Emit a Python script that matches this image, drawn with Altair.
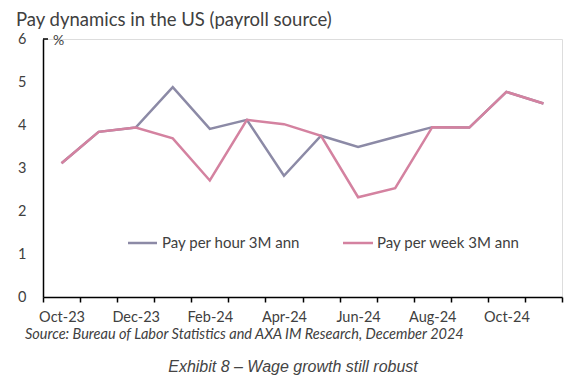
import altair as alt
import pandas as pd

months = ["Oct-23", "Nov-23", "Dec-23", "Jan-24", "Feb-24", "Mar-24", "Apr-24",
          "May-24", "Jun-24", "Jul-24", "Aug-24", "Sep-24", "Oct-24", "Nov-24"]
pay_hour = [3.11, 3.84, 3.94, 4.88, 3.91, 4.12, 2.82, 3.75, 3.49, 3.72, 3.95, 3.94, 4.77, 4.50]
pay_week = [3.11, 3.84, 3.94, 3.69, 2.71, 4.12, 4.02, 3.75, 2.32, 2.53, 3.95, 3.94, 4.77, 4.50]
shown_labels = ["Oct-23", "Dec-23", "Feb-24", "Apr-24", "Jun-24", "Aug-24", "Oct-24"]
series_names = ["Pay per hour 3M ann", "Pay per week 3M ann"]
colors = ["#8C8AA6", "#D482A0"]

rows = []
for name, vals in zip(series_names, [pay_hour, pay_week]):
    for m, v in zip(months, vals):
        rows.append({"month": m, "value": v, "series": name})
df = pd.DataFrame(rows)

FONT = "Lato"
TXT = "#404040"
W, H = 519, 258

label_list = "[" + ",".join("'%s'" % l for l in shown_labels) + "]"

lines = alt.Chart(df).mark_line(strokeWidth=2.5).encode(
    x=alt.X("month:N", sort=months, bandPosition=0.5,
            scale=alt.Scale(type="band", paddingInner=0, paddingOuter=0),
            axis=alt.Axis(title=None, tickBand="extent", labelAngle=0,
                          labelExpr="indexof(" + label_list + ", datum.value) >= 0 ? datum.value : ''",
                          domainColor="black", domainWidth=1.5, tickColor="black",
                          tickWidth=1.5, tickSize=5, labelPadding=8, labelFont=FONT,
                          labelFontSize=14.5, labelColor=TXT, grid=False, labelOverlap=False)),
    y=alt.Y("value:Q", scale=alt.Scale(domain=[0, 6], nice=False),
            axis=alt.Axis(title=None, values=[0, 1, 2, 3, 4, 5, 6], ticks=False,
                          domainColor="black", domainWidth=1.5, labelPadding=17,
                          labelFont=FONT, labelFontSize=14.5, labelColor=TXT, grid=False)),
    color=alt.Color("series:N", scale=alt.Scale(domain=series_names, range=colors), legend=None),
    order=alt.Order("series:N"),
    detail="series:N",
)

top_tick = alt.Chart(pd.DataFrame({"a": [0]})).mark_rule(color="black", strokeWidth=1.5).encode(
    x=alt.value(0), x2=alt.value(5), y=alt.value(0))

def txt(s, x, y, size=15, align="left", font=FONT, style="normal", color=TXT):
    return alt.Chart(pd.DataFrame({"t": [s]})).mark_text(
        align=align, baseline="middle", fontSize=size, font=font, fontStyle=style, color=color
    ).encode(text="t:N", x=alt.value(x), y=alt.value(y))

leg_hour = alt.Chart(pd.DataFrame({"a": [0]})).mark_rule(color=colors[0], strokeWidth=2.5).encode(
    x=alt.value(85), x2=alt.value(114), y=alt.value(204))
leg_week = alt.Chart(pd.DataFrame({"a": [0]})).mark_rule(color=colors[1], strokeWidth=2.5).encode(
    x=alt.value(300), x2=alt.value(330), y=alt.value(204))

chart = alt.layer(
    lines, top_tick, leg_hour, leg_week,
    txt(series_names[0], 119, 204),
    txt(series_names[1], 334, 204),
    txt("%", 10, 2, size=14),
    txt("Pay dynamics in the US (payroll source)", -27, -19, size=18.5),
    txt("Source: Bureau of Labor Statistics and AXA IM Research, December 2024", -18, 296,
        size=14.5, style="italic"),
    txt("Exhibit 8 \u2013 Wage growth still robust", 250, 328, size=16, align="center",
        font="Liberation Sans", style="italic", color="#444444"),
).properties(
    width=W, height=H,
    autosize=alt.AutoSizeParams(type="none"),
    padding={"left": 35, "top": 31, "right": 16, "bottom": 81},
).configure_view(stroke=None).configure(background="white")

chart.save("out.html", embed_options={"renderer": "svg", "actions": False})
